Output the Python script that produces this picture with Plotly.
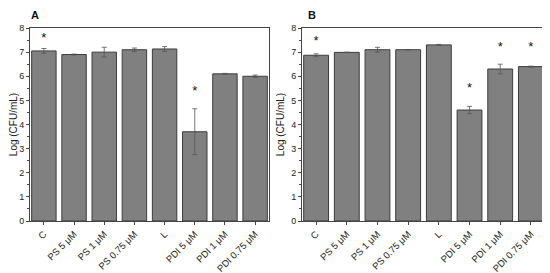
import plotly.graph_objects as go

categories = ["C", "PS 5 μM", "PS 1 μM", "PS 0.75 μM", "L", "PDI 5 μM", "PDI 1 μM", "PDI 0.75 μM"]

a_values = [7.05, 6.90, 7.00, 7.10, 7.13, 3.70, 6.10, 6.00]
a_errors = [0.10, 0.02, 0.20, 0.07, 0.10, 0.95, 0.02, 0.05]
a_stars = [7.55, None, None, None, None, 5.35, None, None]

b_values = [6.87, 6.99, 7.10, 7.10, 7.30, 4.60, 6.30, 6.40]
b_errors = [0.06, 0.01, 0.10, 0.01, 0.02, 0.15, 0.20, 0.02]
b_stars = [7.42, None, None, None, None, 5.47, 7.17, 7.17]

BAR = "#808080"
EDGE = "#3c3c3c"
INK = "#222222"
FONT = "Liberation Sans, Arial, sans-serif"
# the page body keeps its default 8px margin, so the figure is drawn 8px in
OFF = 8
W, H = 550 - OFF, 273 - OFF


def fx(px):
    return (px - OFF) / W


def fy(py):
    return 1 - (py - OFF) / H


fig = go.Figure()

panels = [
    ("x", "y", a_values, a_errors, a_stars),
    ("x2", "y2", b_values, b_errors, b_stars),
]
for xa, ya, vals, errs, stars in panels:
    fig.add_trace(go.Bar(
        x=categories, y=vals, xaxis=xa, yaxis=ya, width=0.81,
        marker=dict(color=BAR, line=dict(color=EDGE, width=1)),
        error_y=dict(type="data", array=errs, color="#555555", thickness=0.8, width=2.5),
        showlegend=False,
    ))
    sx = [c for c, s in zip(categories, stars) if s is not None]
    sy = [s for s in stars if s is not None]
    fig.add_trace(go.Scatter(
        x=sx, y=sy, xaxis=xa, yaxis=ya, mode="text", text=["*"] * len(sx),
        textposition="middle center", textfont=dict(size=13, color="#111111", family=FONT),
        showlegend=False, hoverinfo="skip",
    ))

axis_common = dict(
    showline=True, linecolor="#444444", linewidth=1, mirror=True,
    ticks="outside", ticklen=3, tickcolor="#444444", automargin=False,
    tickfont=dict(size=9, color=INK, family=FONT),
)
yaxis_common = dict(
    axis_common, range=[0, 8], dtick=1, showgrid=False, zeroline=False,
    minor=dict(ticks="outside", ticklen=2, dtick=0.5, tickcolor="#444444"),
    title=dict(text="Log (CFU/mL)", font=dict(size=10, color=INK, family=FONT), standoff=4),
)
xaxis_common = dict(
    axis_common, range=[-0.46, 7.46], tickangle=-45, showgrid=False,
    tickfont=dict(size=9.5, color=INK, family=FONT),
)

fig.update_layout(
    width=W, height=H,
    margin=dict(l=0, r=0, t=0, b=0, autoexpand=False),
    paper_bgcolor="white", plot_bgcolor="white",
    font=dict(family=FONT),
    xaxis=dict(xaxis_common, domain=[fx(30), fx(269)], anchor="y"),
    yaxis=dict(yaxis_common, domain=[fy(221), fy(28)], anchor="x"),
    xaxis2=dict(xaxis_common, domain=[fx(302), fx(545)], anchor="y2"),
    yaxis2=dict(yaxis_common, domain=[fy(221), fy(28)], anchor="x2"),
)
# panel letters hug the top edge of the figure so they are not clipped
for label, px in [("A", 35), ("B", 312)]:
    fig.add_annotation(
        text="<b>" + label + "</b>", x=fx(px), y=1, xref="paper", yref="paper",
        showarrow=False, xanchor="center", yanchor="top", borderpad=0,
        font=dict(size=11, color="#111111", family=FONT),
    )

fig.write_html("out.html")
